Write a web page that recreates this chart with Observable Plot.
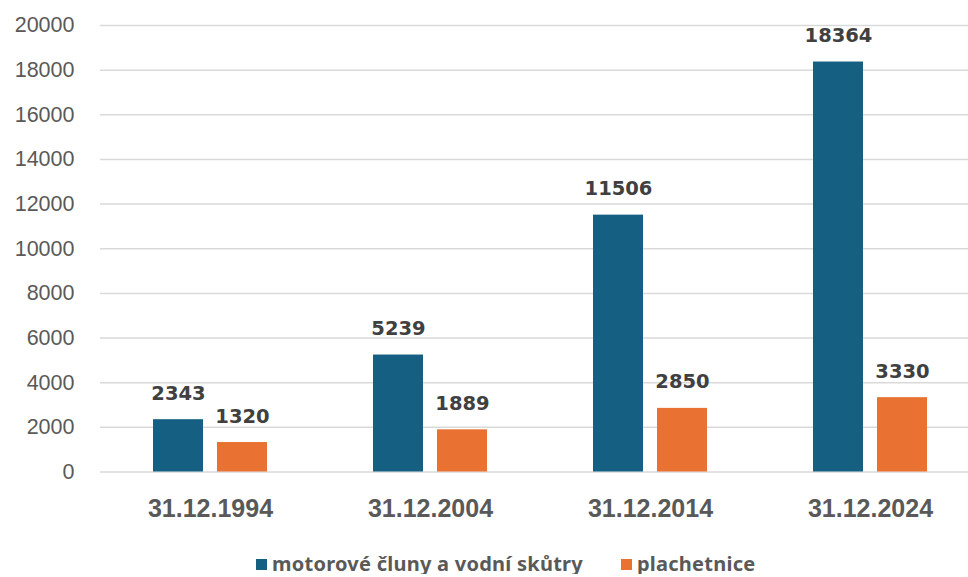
<!DOCTYPE html>
<html>
<head>
<meta charset="utf-8">
<script src="https://cdn.jsdelivr.net/npm/d3@7"></script>
<script src="https://cdn.jsdelivr.net/npm/@observablehq/plot@0.6"></script>
<style>
  html, body { margin: 0; padding: 0; background: #fff; overflow: hidden; }
  #chart svg { max-width: none !important; display: block; }
  .legend {
    display: flex; align-items: center; height: 20px; line-height: 20px; padding-top: 14px;
    padding-left: 256px;
    font-family: "Noto Sans", sans-serif; font-weight: bold; font-size: 20px;
    letter-spacing: 0.25px; color: #595959;
  }
  .legend .item { display: flex; align-items: center; margin-right: 38px; }
  .legend .sw { width: 11px; height: 11px; margin-right: 5px; }
</style>
</head>
<body>
<div id="chart"></div>
<script>
// Registered boats by date
const dates = ["31.12.1994", "31.12.2004", "31.12.2014", "31.12.2024"];
const motorove = [2343, 5239, 11506, 18364];
const plachetnice = [1320, 1889, 2850, 3330];
const series = ["motorové čluny a vodní skůtry", "plachetnice"];
const colors = ["#156082", "#E97132"];
const yTicks = [0, 2000, 4000, 6000, 8000, 10000, 12000, 14000, 16000, 18000, 20000];

const rows = dates.flatMap((d, i) => [
  {date: d, series: series[0], value: motorove[i]},
  {date: d, series: series[1], value: plachetnice[i]}
]);

const chart = Plot.plot({
  width: 980,
  height: 540,
  marginLeft: 100,
  marginRight: 0,
  marginTop: 25,
  marginBottom: 68.5,
  style: {color: "#595959", background: "#fff"},
  fx: {domain: dates, padding: 0, label: null},
  x: {domain: series, paddingInner: 0.21875, paddingOuter: 0.828, axis: null},
  y: {domain: [0, 20000], label: null},
  color: {domain: series, range: colors},
  marks: [
    Plot.gridY(yTicks, {stroke: "#d9d9d9", strokeOpacity: 1, strokeWidth: 1.5}),
    Plot.axisY(yTicks, {
      tickSize: 0, tickPadding: 26, label: null,
      fontSize: 21.5, fontFamily: "Liberation Sans", tickFormat: d => String(d)
    }),
    Plot.axisFx({
      anchor: "bottom", tickSize: 0, tickPadding: 27, label: null,
      fontSize: 25, fontWeight: "bold", fontFamily: "Liberation Sans"
    }),
    Plot.barY(rows, {fx: "date", x: "series", y: "value", fill: "series"}),
    Plot.text(rows, {
      fx: "date", x: "series", y: "value", text: d => String(d.value),
      lineAnchor: "bottom", dy: -20, fill: "#404040",
      fontSize: 19.5, fontWeight: "bold", fontFamily: "DejaVu Sans"
    })
  ]
});
document.getElementById("chart").appendChild(chart);

// Legend below the chart
const legend = document.createElement("div");
legend.className = "legend";
series.forEach((s, i) => {
  const item = document.createElement("div");
  item.className = "item";
  const sw = document.createElement("span");
  sw.className = "sw";
  sw.style.background = colors[i];
  const label = document.createElement("span");
  label.textContent = s;
  item.append(sw, label);
  legend.appendChild(item);
});
document.getElementById("chart").appendChild(legend);
</script>
</body>
</html>
